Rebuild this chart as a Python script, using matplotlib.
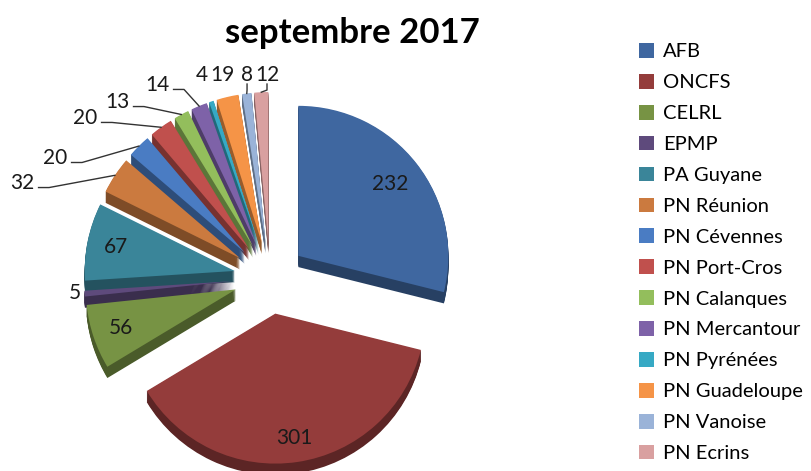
import numpy as np
import matplotlib
matplotlib.use("Agg")
import matplotlib.pyplot as plt
from matplotlib.colors import to_rgb

plt.rcParams['font.family'] = ['Lato', 'DejaVu Sans']

title = "septembre 2017"
categories = ["AFB", "ONCFS", "CELRL", "EPMP", "PA Guyane", "PN Réunion",
              "PN Cévennes", "PN Port-Cros", "PN Calanques", "PN Mercantour",
              "PN Pyrénées", "PN Guadeloupe", "PN Vanoise", "PN Ecrins"]
values = [232, 301, 56, 5, 67, 32, 20, 20, 13, 14, 4, 19, 8, 12]
colors = ["#3F67A0", "#943C3B", "#779344", "#5E4A7C", "#3A8599", "#CB7A3F",
          "#4A7CC3", "#C0504D", "#93BE5C", "#7E62A8", "#36A9C4", "#F59447",
          "#9AB3D8", "#D9A0A0"]

# label placement (data units; pie radius = 1)
inside = {0: 0.78, 1: 0.84, 2: 0.81, 4: 0.81}
outside = {3: (-1.30, -0.10),
           5: (-1.653, 0.633), 6: (-1.433, 0.80), 7: (-1.233, 1.067),
           8: (-1.02, 1.173), 9: (-0.753, 1.287), 10: (-0.453, 1.353),
           11: (-0.32, 1.353), 12: (-0.153, 1.353), 13: (-0.02, 1.353)}
leader = {5, 6, 7, 8, 9, 12, 13}

W, H = 811, 471
fig = plt.figure(figsize=(W / 100, H / 100), dpi=100)
ax = fig.add_axes([0, -77 / H, 540 / W, 540 / H])

expl = 0.24
explode = [expl] * len(values)
dark = [tuple(c * 0.62 for c in to_rgb(col)) for col in colors]

depth = 0.075
for d in np.linspace(depth, 0.005, 12):
    ax.pie(values, colors=dark, startangle=90, counterclock=False,
           explode=explode, center=(0, -d), wedgeprops=dict(linewidth=0))
wedges, _ = ax.pie(values, colors=colors, startangle=90, counterclock=False,
                   explode=explode, wedgeprops=dict(linewidth=0))

total = sum(values)
cum = np.cumsum([0] + values)
for i, v in enumerate(values):
    mid = np.deg2rad((cum[i] + cum[i + 1]) / 2 / total * 360)
    dx, dy = np.sin(mid), np.cos(mid)
    if i in inside:
        r = expl + inside[i]
        ax.text(r * dx, r * dy, str(v), ha='center', va='center',
                fontsize=15, color='#1a1a1a')
    else:
        lx, ly = outside[i]
        ax.text(lx, ly, str(v), ha='center', va='center', fontsize=15,
                color='#1a1a1a')
        if i in leader:
            ax_, ay_ = (1 + expl) * dx, (1 + expl) * dy
            if i in (12, 13):
                ax.plot([lx, lx, ax_], [ly - 0.06, ly - 0.1, ay_],
                        color='#333333', lw=1)
            else:
                sx = lx + 0.11
                sy = ly - 0.03
                ax.plot([sx, sx + 0.07, ax_], [sy, sy, ay_],
                        color='#333333', lw=1)

ax.set_xlim(-1.8, 1.8)
ax.set_ylim(-1.8, 1.8)
ax.set_aspect('equal')
ax.axis('off')

fig.text(352 / W, 1 - 33 / H, title, ha='center', va='center',
         fontsize=25, fontweight='bold', color='black')

fig.legend(wedges, categories, loc='upper left',
           bbox_to_anchor=(631 / W, 1 - 35 / H), frameon=False,
           fontsize=14.5, handlelength=0.75, handleheight=0.75,
           handletextpad=0.45, labelspacing=0.67, borderaxespad=0)

fig.savefig("out.png", dpi=100)
